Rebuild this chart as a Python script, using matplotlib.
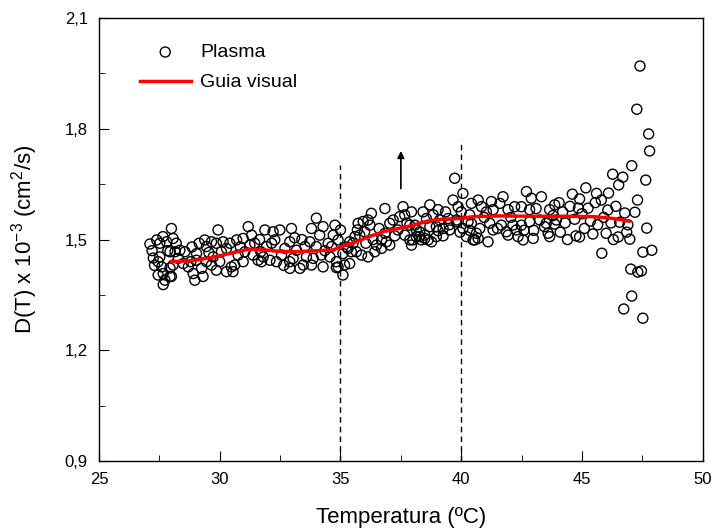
import matplotlib
matplotlib.use("Agg")
import matplotlib.pyplot as plt
from matplotlib.ticker import MultipleLocator, FuncFormatter

plt.rcParams['font.family'] = ['Liberation Sans', 'DejaVu Sans']
plt.rcParams['mathtext.fontset'] = 'custom'
plt.rcParams['mathtext.rm'] = 'Liberation Sans'
plt.rcParams['mathtext.it'] = 'Liberation Sans:italic'

# Plasma points (temperature in C, D(T) x 1e-3 cm2/s)
temp = [
    27.11, 27.2, 27.25, 27.3, 27.39, 27.45, 27.45, 27.52, 27.52, 27.6,
    27.65, 27.66, 27.66, 27.73, 27.8, 27.85, 27.94, 27.94, 27.94, 28.0, 28.0,
    28.07, 28.07, 28.15, 28.2, 28.28, 28.35, 28.49, 28.56, 28.7, 28.8,
    28.85, 28.9, 28.97, 29.04, 29.04, 29.15, 29.25, 29.31, 29.38, 29.45,
    29.45, 29.55, 29.66, 29.66, 29.73, 29.86, 29.86, 29.93, 30.0, 30.07,
    30.14, 30.28, 30.28, 30.42, 30.48,
    30.55, 30.62, 30.7, 30.76, 30.85, 30.97, 30.97, 31.04, 31.18, 31.25,
    31.32, 31.38, 31.45, 31.59, 31.65, 31.7, 31.73, 31.8, 31.87, 31.94,
    32.08, 32.15, 32.21, 32.28, 32.35, 32.49, 32.56, 32.65, 32.7, 32.9,
    32.9, 32.9, 32.97,
    33.04, 33.1, 33.18, 33.32, 33.4, 33.46, 33.53, 33.59, 33.73, 33.8,
    33.8, 33.87, 34.0, 34.0, 34.14, 34.21, 34.28, 34.28, 34.35, 34.49,
    34.56, 34.63, 34.7, 34.77, 34.83, 34.83, 34.9, 34.9, 35.0, 35.1,
    35.1, 35.17, 35.25, 35.31, 35.38, 35.38, 35.45,
    35.52, 35.6, 35.66, 35.7, 35.73, 35.8, 35.87, 35.94, 36.0, 36.05,
    36.14, 36.14, 36.22, 36.28, 36.35, 36.42, 36.49, 36.6, 36.7, 36.7,
    36.84, 36.84, 36.9, 37.04, 37.04, 37.18, 37.25, 37.38, 37.45, 37.59,
    37.66, 37.66, 37.75, 37.87, 37.87, 37.94, 37.94,
    38.0, 38.08, 38.14, 38.14, 38.28, 38.28, 38.35, 38.42, 38.49, 38.49,
    38.56, 38.63, 38.7, 38.7, 38.77, 38.84, 38.97, 38.97, 39.04, 39.04,
    39.11, 39.25, 39.25, 39.35, 39.46, 39.5, 39.52, 39.66, 39.73, 39.8,
    39.8, 39.87, 39.95, 40.0, 40.07, 40.07, 40.21, 40.28, 40.35, 40.35,
    40.42, 40.42, 40.49,
    40.56, 40.63, 40.7, 40.7, 40.77, 40.84, 40.95, 41.04, 41.11, 41.18,
    41.25, 41.32, 41.32, 41.5, 41.6, 41.66, 41.73, 41.87, 41.94, 41.94,
    42.05, 42.14, 42.21, 42.28, 42.35, 42.49, 42.49, 42.56, 42.6, 42.7,
    42.83, 42.83, 42.9, 42.98, 43.0, 43.1, 43.25, 43.32, 43.45,
    43.52, 43.6, 43.66, 43.66, 43.8, 43.87, 43.87, 43.94, 44.05, 44.1,
    44.2, 44.3, 44.4, 44.5, 44.6, 44.7, 44.75, 44.85, 44.9, 44.9,
    45.0, 45.1, 45.16, 45.25, 45.35, 45.45, 45.55, 45.6, 45.65, 45.8,
    45.82, 45.9, 46.0, 46.07, 46.1, 46.2, 46.27, 46.3, 46.4, 46.5,
    46.52, 46.56, 46.69, 46.73, 46.77, 46.85, 46.9, 46.98,
    47.02, 47.06, 47.06, 47.19, 47.27, 47.3, 47.31, 47.4, 47.46, 47.52,
    47.52, 47.64, 47.68, 47.76, 47.8, 47.89,
]
plasma = [
    1.488, 1.47, 1.45, 1.43, 1.499, 1.44, 1.404, 1.490, 1.453, 1.426,
    1.508, 1.408, 1.378, 1.39, 1.494, 1.47, 1.467, 1.423, 1.40, 1.53, 1.40,
    1.503, 1.431, 1.467, 1.49, 1.449, 1.471, 1.435, 1.467, 1.426, 1.44,
    1.48, 1.408, 1.39, 1.444, 1.462, 1.49, 1.422, 1.40, 1.499, 1.481,
    1.44, 1.465, 1.494, 1.431, 1.453, 1.49, 1.417, 1.526, 1.44, 1.467,
    1.494, 1.476, 1.413, 1.49, 1.426,
    1.413, 1.431, 1.499, 1.458, 1.48, 1.503, 1.44, 1.467, 1.535, 1.485,
    1.512, 1.458, 1.49, 1.444, 1.50, 1.467, 1.44, 1.453, 1.526, 1.481,
    1.444, 1.49, 1.521, 1.499, 1.44, 1.526, 1.458, 1.43, 1.476, 1.494,
    1.44, 1.422, 1.53,
    1.449, 1.505, 1.471, 1.422, 1.50, 1.431, 1.481, 1.453, 1.494, 1.53,
    1.431, 1.449, 1.558, 1.481, 1.512, 1.458, 1.535, 1.426, 1.47, 1.49,
    1.453, 1.481, 1.512, 1.539, 1.44, 1.424, 1.499, 1.426, 1.526, 1.462,
    1.404, 1.431, 1.48, 1.476, 1.494, 1.435, 1.467,
    1.49, 1.508, 1.467, 1.526, 1.544, 1.512, 1.458, 1.549, 1.521, 1.49,
    1.553, 1.453, 1.539, 1.571, 1.50, 1.467, 1.485, 1.53, 1.499, 1.476,
    1.584, 1.517, 1.494, 1.544, 1.485, 1.553, 1.51, 1.526, 1.562, 1.589,
    1.567, 1.512, 1.545, 1.539, 1.499, 1.575, 1.485,
    1.499, 1.539, 1.508, 1.526, 1.521, 1.508, 1.499, 1.575, 1.512, 1.503,
    1.557, 1.499, 1.594, 1.535, 1.494, 1.567, 1.535, 1.508, 1.581, 1.524,
    1.553, 1.53, 1.51, 1.575, 1.557, 1.54, 1.526, 1.607, 1.666, 1.553,
    1.548, 1.589, 1.52, 1.575, 1.625, 1.53, 1.508, 1.548, 1.567, 1.525,
    1.598, 1.544, 1.499,
    1.499, 1.517, 1.607, 1.503, 1.53, 1.589, 1.56, 1.575, 1.494, 1.544,
    1.603, 1.581, 1.526, 1.53, 1.598, 1.539, 1.616, 1.521, 1.581, 1.512,
    1.56, 1.539, 1.589, 1.526, 1.508, 1.589, 1.539, 1.499, 1.525, 1.63,
    1.581, 1.548, 1.612, 1.503, 1.525, 1.584, 1.553, 1.616, 1.535,
    1.544, 1.517, 1.581, 1.508, 1.565, 1.594, 1.542, 1.553, 1.60, 1.52,
    1.575, 1.545, 1.50, 1.59, 1.623, 1.555, 1.51, 1.585, 1.61, 1.507,
    1.57, 1.53, 1.64, 1.585, 1.55, 1.515, 1.60, 1.625, 1.54, 1.607,
    1.463, 1.56, 1.517, 1.58, 1.626, 1.545, 1.677, 1.50, 1.59, 1.507,
    1.648, 1.547, 1.669, 1.312, 1.572, 1.52, 1.54, 1.501,
    1.42, 1.70, 1.347, 1.574, 1.853, 1.607, 1.412, 1.97, 1.415, 1.466,
    1.287, 1.661, 1.531, 1.786, 1.74, 1.471,
]

# Guia visual (red curve)
guia_t = [28.0, 28.9, 29.7, 30.4, 31.2, 31.8, 32.5, 33.1, 34.1, 34.7, 35.0,
          35.6, 36.2, 36.8, 37.4, 37.9, 38.6, 39.2, 39.9, 40.5, 41.5, 43.0,
          44.5, 45.5, 46.3, 46.95]
guia_d = [1.44, 1.443, 1.452, 1.462, 1.474, 1.472, 1.468, 1.467, 1.47, 1.472,
          1.48, 1.493, 1.508, 1.522, 1.53, 1.537, 1.55, 1.555, 1.557, 1.562,
          1.564, 1.563, 1.563, 1.562, 1.557, 1.55]

# dashed markers: (x, top of line)
vlines_x = [35, 40]
vlines_top = [1.702, 1.769]

fig = plt.figure(figsize=(7.12, 5.30), dpi=100)
ax = fig.add_axes([0.139, 0.130, 0.848, 0.836])

ax.scatter(temp, plasma, s=52, facecolors='none', edgecolors='black',
           linewidths=1.0, label='Plasma', zorder=3)
ax.plot(guia_t, guia_d, color='red', lw=2.5, label='Guia visual', zorder=4)

for xv, top in zip(vlines_x, vlines_top):
    ax.plot([xv, xv], [0.9, top], color='black', lw=1.0, ls=(0, (4, 3)), zorder=2)

ax.annotate('', xy=(37.5, 1.74), xytext=(37.5, 1.638),
            arrowprops=dict(arrowstyle='-|>', color='black', lw=1.2,
                            mutation_scale=10, shrinkA=0, shrinkB=0))

ax.set_xlim(25, 50)
ax.set_ylim(0.9, 2.1)
ax.xaxis.set_major_locator(MultipleLocator(5))
ax.xaxis.set_minor_locator(MultipleLocator(2.5))
ax.yaxis.set_major_locator(MultipleLocator(0.3))
ax.yaxis.set_minor_locator(MultipleLocator(0.15))
ax.yaxis.set_major_formatter(FuncFormatter(lambda v, p: ('%.1f' % v).replace('.', ',')))
ax.tick_params(which='both', direction='in', top=False, right=False, labelsize=12)
ax.tick_params(which='major', length=7, pad=8)
ax.tick_params(which='minor', length=4)
for sp in ax.spines.values():
    sp.set_linewidth(1.0)

ax.set_xlabel('Temperatura (ºC)', fontsize=16, labelpad=14)
ax.set_ylabel('D(T) x 10$^{-3}$ (cm$^{2}$/s)', fontsize=16, labelpad=18)

ax.legend(loc='upper left', bbox_to_anchor=(0.055, 0.96), frameon=False,
          fontsize=14, handlelength=2.6, handletextpad=0.5, labelspacing=0.65,
          borderaxespad=0)

fig.savefig('out.png', dpi=100)
